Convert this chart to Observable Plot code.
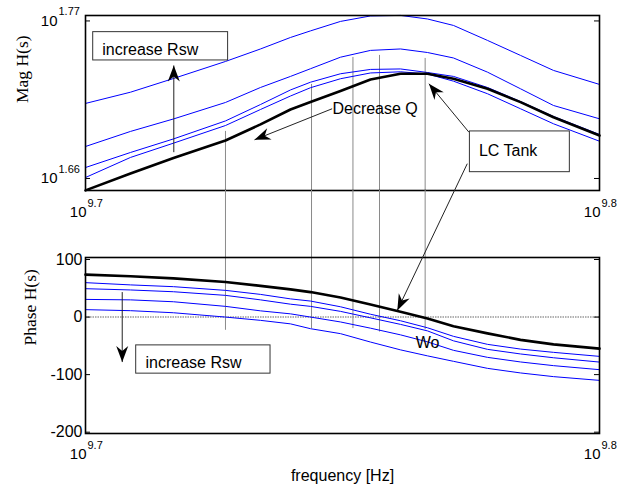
<!DOCTYPE html>
<html><head><meta charset="utf-8">
<script src="https://cdn.jsdelivr.net/npm/d3@7"></script>
<script src="https://cdn.jsdelivr.net/npm/@observablehq/plot@0.6"></script>
<style>
html,body{margin:0;padding:0;background:#fff;}
#chart{position:relative;width:627px;height:486px;}
#chart svg{position:absolute;left:0;top:0;}
</style></head><body><div id="chart"></div>
<script>
// ---------- data ----------
const freqGHz = [5.0119, 5.1139, 5.2134, 5.3362, 5.4206, 5.4939, 5.5434, 5.6184, 5.6944, 5.7714, 5.8416, 5.9101, 6.0008, 6.0902, 6.1809, 6.3096];
// magnitude |H(s)|
const magLC = [44.84, 46.08, 47.24, 48.59, 49.86, 51.07, 51.69, 52.61, 53.60, 54.09, 54.09, 53.66, 52.80, 51.68, 50.44, 48.98];
const magR1 = [51.57, 52.51, 53.68, 55.17, 56.29, 57.34, 57.95, 58.84, 59.36, 59.41, 59.07, 58.46, 57.07, 55.71, 54.38, 53.17];
const magR2 = [48.12, 49.30, 50.30, 51.65, 52.91, 53.86, 54.53, 55.55, 56.16, 56.29, 55.97, 55.48, 54.23, 52.80, 51.40, 50.31];
const magR3 = [46.52, 47.66, 48.71, 50.14, 51.48, 52.70, 53.36, 54.09, 54.47, 54.51, 54.20, 53.86, 52.91, 51.73, 50.50, 49.06];
const magR4 = [45.78, 47.28, 48.38, 49.77, 51.07, 52.19, 52.89, 53.66, 54.16, 54.26, 54.07, 53.45, 52.38, 51.13, 49.91, 48.53];
// phase H(s), degrees
const phaseLC = [73.7, 71.0, 67.2, 60.8, 54.2, 48.1, 43.4, 33.9, 21.7, 9.4, -2.3, -15.8, -28.3, -39.6, -47.4, -54.9];
const phaseR1 = [59.8, 55.9, 52.8, 46.4, 39.4, 31.6, 27.8, 17.9, 4.9, -6.4, -18.6, -33.5, -47.4, -55.6, -61.3, -68.3];
const phaseR2 = [49.3, 47.1, 44.0, 37.7, 29.9, 22.4, 18.6, 9.9, -1.4, -12.7, -24.0, -41.3, -56.1, -64.1, -70.7, -78.2];
const phaseR3 = [30.7, 29.9, 26.6, 18.6, 10.8, 5.6, 0.0, -8.5, -19.3, -30.9, -43.1, -57.8, -70.0, -78.0, -84.4, -91.4];
const phaseR4 = [12.9, 11.1, 7.5, 0.0, -5.7, -11.8, -20.2, -28.8, -43.4, -57.0, -67.4, -76.9, -89.1, -97.1, -103.5, -110.0];
// resonance markers (Wo)
const woGHz = [5.3362, 5.5459, 5.6498, 5.7174, 5.8355];
const woMagTop = [49.30, 53.17, 55.53, 55.71, 55.44];
const woPhaseEnd = [-23, -20, -20, -26, -22];
// ticks
const xTickExp = [9.7, 9.8];
const magTickExp = [1.66, 1.77];
const phaseTicks = [100, 0, -100, -200];
// annotations (data coordinates: GHz, magnitude / phase)
const magTexts = [
  {f: 5.0495, v: 55.769, text: "increase Rsw"},
  {f: 5.5981, v: 50.663, text: "Decrease Q"},
  {f: 5.9777, v: 47.355, text: "LC Tank"}
];
const magBoxes = [
  {f1: 5.0292, f2: 5.3425, v1: 57.833, v2: 55.260},
  {f1: 5.9537, f2: 6.2263, v1: 49.30, v2: 46.174}
];
const magArrows = [
  {f1: 5.2141, v1: 47.683, f2: 5.2141, v2: 54.817, rot: 0},
  {f1: 5.5973, v1: 51.13, f2: 5.4061, v2: 48.643, rot: -111.75},
  {f1: 5.9510, v1: 49.242, f2: 5.8454, v2: 53.227, rot: -39.6}
];
const phaseTexts = [
  {f: 5.1485, v: -89.1, text: "increase Rsw"},
  {f: 5.8107, v: -54.4, text: "Wo"}
];
const phaseBoxes = [
  {f1: 5.1270, f2: 5.4450, v1: -49.2, v2: -98.3}
];
const phaseArrows = [
  {f1: 5.0950, v1: 43.4, f2: 5.0950, v2: -78.2, rot: 180},
  {f1: 5.9467, v1: 266.5, f2: 5.7632, v2: 11.6, rot: -154.5}
];

// ---------- layout ----------
const W = 627, H = 486, ML = 85, MR = 28;
const frameW = W - ML - MR;
const tickLen = 5;
const sans = "'Liberation Sans', Arial, sans-serif";
const serif = "'Liberation Serif', 'Times New Roman', serif";
const xDomain = [10 ** 9.7, 10 ** 9.8];
const magDomain = [10 ** 1.6516, 10 ** 1.7738];
const phaseDomain = [-202.3, 103.5];
const hz = g => g * 1e9;
const series = vals => vals.map((v, i) => ({f: hz(freqGHz[i]), v}));
const woData = woGHz.map((g, i) => ({f: hz(g), top: woMagTop[i], end: woPhaseEnd[i]}));
const arrowHead = {draw(ctx) { ctx.moveTo(0, 0); ctx.lineTo(-6, 16); ctx.lineTo(0, 11); ctx.lineTo(6, 16); ctx.closePath(); }};
const blue = "#0000ff";

function annot(texts, boxes, arrows) {
  return [
    Plot.rect(boxes, {x1: d => hz(d.f1), x2: d => hz(d.f2), y1: "v1", y2: "v2", fill: "none", stroke: "#333", strokeWidth: 1}),
    Plot.text(texts, {x: d => hz(d.f), y: "v", text: "text", textAnchor: "start", lineAnchor: "bottom", fontSize: 16, fontFamily: sans, fill: "black"}),
    Plot.link(arrows, {x1: d => hz(d.f1), y1: "v1", x2: d => hz(d.f2), y2: "v2", stroke: "#222", strokeWidth: 1}),
    Plot.dot(arrows, {x: d => hz(d.f2), y: "v2", symbol: arrowHead, rotate: "rot", fill: "black", stroke: "none", r: 5})
  ];
}

const magPlot = Plot.plot({
  width: W, height: H,
  marginLeft: ML, marginRight: MR, marginTop: 15, marginBottom: H - 190,
  style: {background: "white", fontFamily: sans},
  x: {type: "log", domain: xDomain, axis: null},
  y: {type: "log", domain: magDomain, axis: null},
  marks: [
    Plot.ruleX(woData, {x: "f", y1: "top", y2: () => magDomain[0], stroke: "#8a8a8a", strokeWidth: 1}),
    Plot.line(series(magR1), {x: "f", y: "v", stroke: blue, strokeWidth: 1}),
    Plot.line(series(magR2), {x: "f", y: "v", stroke: blue, strokeWidth: 1}),
    Plot.line(series(magR3), {x: "f", y: "v", stroke: blue, strokeWidth: 1}),
    Plot.line(series(magR4), {x: "f", y: "v", stroke: blue, strokeWidth: 1}),
    Plot.line(series(magLC), {x: "f", y: "v", stroke: "black", strokeWidth: 2.6}),
    Plot.frame({stroke: "black", strokeWidth: 1.6}),
    Plot.tickY(magTickExp, {y: e => 10 ** e, insetRight: frameW - tickLen, stroke: "black"}),
    Plot.tickY(magTickExp, {y: e => 10 ** e, insetLeft: frameW - tickLen, stroke: "black"}),
    Plot.text(magTickExp, {y: e => 10 ** e, frameAnchor: "left", text: () => "10", textAnchor: "end", dx: -28, fontSize: 15, fill: "black"}),
    Plot.text(magTickExp, {y: e => 10 ** e, frameAnchor: "left", text: e => e.toFixed(2), textAnchor: "start", dx: -27, dy: -9, fontSize: 11, fill: "black"}),
    Plot.text(xTickExp, {x: e => 10 ** e, frameAnchor: "bottom", text: () => "10", textAnchor: "end", lineAnchor: "bottom", dx: 1, dy: 26.5, fontSize: 15, fill: "black"}),
    Plot.text(xTickExp, {x: e => 10 ** e, frameAnchor: "bottom", text: e => String(e), textAnchor: "start", lineAnchor: "bottom", dx: 2, dy: 16, fontSize: 11, fill: "black"}),
    Plot.text(["Mag H(s)"], {frameAnchor: "left", text: d => d, rotate: -90, dx: -63, fontSize: 17.5, fontFamily: serif, fill: "black"}),
    ...annot(magTexts, magBoxes, magArrows)
  ]
});

const phasePlot = Plot.plot({
  width: W, height: H,
  marginLeft: ML, marginRight: MR, marginTop: 257, marginBottom: H - 433,
  style: {background: "transparent", fontFamily: sans},
  x: {type: "log", domain: xDomain, axis: null},
  y: {type: "linear", domain: phaseDomain, axis: null},
  marks: [
    Plot.ruleY([0], {y: d => d, stroke: "#999", strokeWidth: 1.5, strokeDasharray: "1.5,1"}),
    Plot.ruleX(woData, {x: "f", y1: () => phaseDomain[1], y2: "end", insetTop: -(257 - 190), stroke: "#8a8a8a", strokeWidth: 1}),
    Plot.line(series(phaseR1), {x: "f", y: "v", stroke: blue, strokeWidth: 1}),
    Plot.line(series(phaseR2), {x: "f", y: "v", stroke: blue, strokeWidth: 1}),
    Plot.line(series(phaseR3), {x: "f", y: "v", stroke: blue, strokeWidth: 1}),
    Plot.line(series(phaseR4), {x: "f", y: "v", stroke: blue, strokeWidth: 1}),
    Plot.line(series(phaseLC), {x: "f", y: "v", stroke: "black", strokeWidth: 2.6}),
    Plot.frame({stroke: "black", strokeWidth: 1.6}),
    Plot.tickY(phaseTicks, {y: d => d, insetRight: frameW - tickLen, stroke: "black"}),
    Plot.tickY(phaseTicks, {y: d => d, insetLeft: frameW - tickLen, stroke: "black"}),
    Plot.text(phaseTicks, {y: d => d, frameAnchor: "left", text: d => String(d), textAnchor: "end", dx: -3, fontSize: 16, fill: "black"}),
    Plot.text(xTickExp, {x: e => 10 ** e, frameAnchor: "bottom", text: () => "10", textAnchor: "end", lineAnchor: "bottom", dx: 1, dy: 25.5, fontSize: 15, fill: "black"}),
    Plot.text(xTickExp, {x: e => 10 ** e, frameAnchor: "bottom", text: e => String(e), textAnchor: "start", lineAnchor: "bottom", dx: 2, dy: 15, fontSize: 11, fill: "black"}),
    Plot.text(["Phase H(s)"], {frameAnchor: "left", text: d => d, rotate: -90, dx: -55, fontSize: 17.5, fontFamily: serif, fill: "black"}),
    Plot.text(["frequency [Hz]"], {frameAnchor: "bottom", text: d => d, lineAnchor: "bottom", dy: 47, fontSize: 16, fill: "black"}),
    ...annot(phaseTexts, phaseBoxes, phaseArrows)
  ]
});

const el = document.getElementById("chart");
el.appendChild(magPlot);
el.appendChild(phasePlot);
</script>
</body></html>
